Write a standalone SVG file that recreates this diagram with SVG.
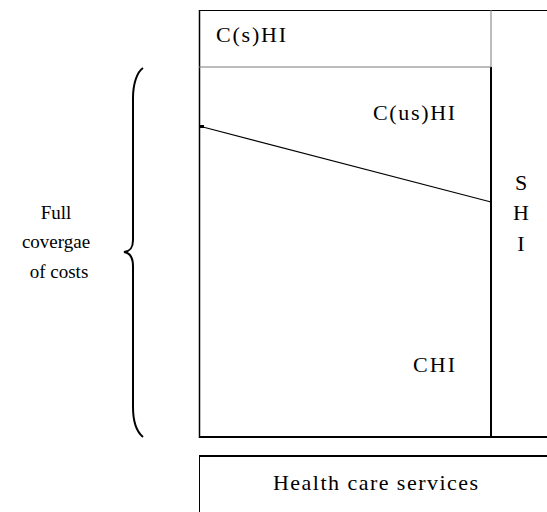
<svg xmlns="http://www.w3.org/2000/svg" width="547" height="512" viewBox="0 0 547 512">
  <style>
    .lbl { font-family: "Liberation Serif", "Times New Roman", serif; font-size: 22px; fill: #000; }
    .side { font-family: "Liberation Serif", "Times New Roman", serif; font-size: 19px; fill: #000; text-anchor: middle; }
    .ln { stroke: #000; fill: none; }
    .thin { stroke: #7a7a7a; stroke-width: 1; fill: none; }
  </style>
  <rect width="547" height="512" fill="#fff"/>

  <!-- insurance block frame -->
  <g id="frame">
    <line class="ln" x1="199" y1="10.5" x2="547" y2="10.5" stroke-width="1.2"/>
    <line class="ln" x1="199.5" y1="10" x2="199.5" y2="438" stroke-width="1.5"/>
    <line class="ln" x1="199" y1="437" x2="547" y2="437" stroke-width="2.2"/>
    <line class="thin" x1="491" y1="10" x2="491" y2="67"/>
    <line class="ln" x1="491" y1="67" x2="491" y2="437" stroke-width="2"/>
  </g>

  <!-- supplementary health insurance -->
  <g id="csHI">
    <line class="thin" x1="199" y1="67" x2="491" y2="67"/>
    <text class="lbl" x="216" y="42" textLength="70" lengthAdjust="spacing">C(s)HI</text>
  </g>

  <!-- split between unsupplemented and compulsory cover -->
  <g id="connectors">
    <line class="ln" x1="201" y1="126.5" x2="491" y2="202" stroke-width="1.2"/>
    <rect x="200" y="125" width="4" height="3" fill="#000"/>
  </g>

  <g id="cusHI">
    <text class="lbl" x="373" y="120" textLength="82" lengthAdjust="spacing">C(us)HI</text>
  </g>

  <g id="CHI">
    <text class="lbl" x="413" y="372" textLength="42" lengthAdjust="spacing">CHI</text>
  </g>

  <g id="SHI">
    <text class="lbl" x="521" y="190" text-anchor="middle">S</text>
    <text class="lbl" x="521" y="220" text-anchor="middle">H</text>
    <text class="lbl" x="521" y="251" text-anchor="middle">I</text>
  </g>

  <!-- services box -->
  <g id="services">
    <line class="ln" x1="199" y1="456" x2="547" y2="456" stroke-width="2"/>
    <line class="ln" x1="199.5" y1="456" x2="199.5" y2="512" stroke-width="1"/>
    <text class="lbl" x="273" y="490" textLength="205" lengthAdjust="spacing">Health care services</text>
  </g>

  <!-- brace with label -->
  <g id="coverage">
    <path class="ln" stroke-width="2" d="M143,68 C137,72 133,84 133,98 L133,240 C133,247 131,251 124,252 C131,253 133,258 133,266 L133,407 C133,421 137,432 143,437"/>
    <text class="side" x="56" y="219">Full</text>
    <text class="side" x="56" y="248">covergae</text>
    <text class="side" x="59" y="278">of costs</text>
  </g>
</svg>
